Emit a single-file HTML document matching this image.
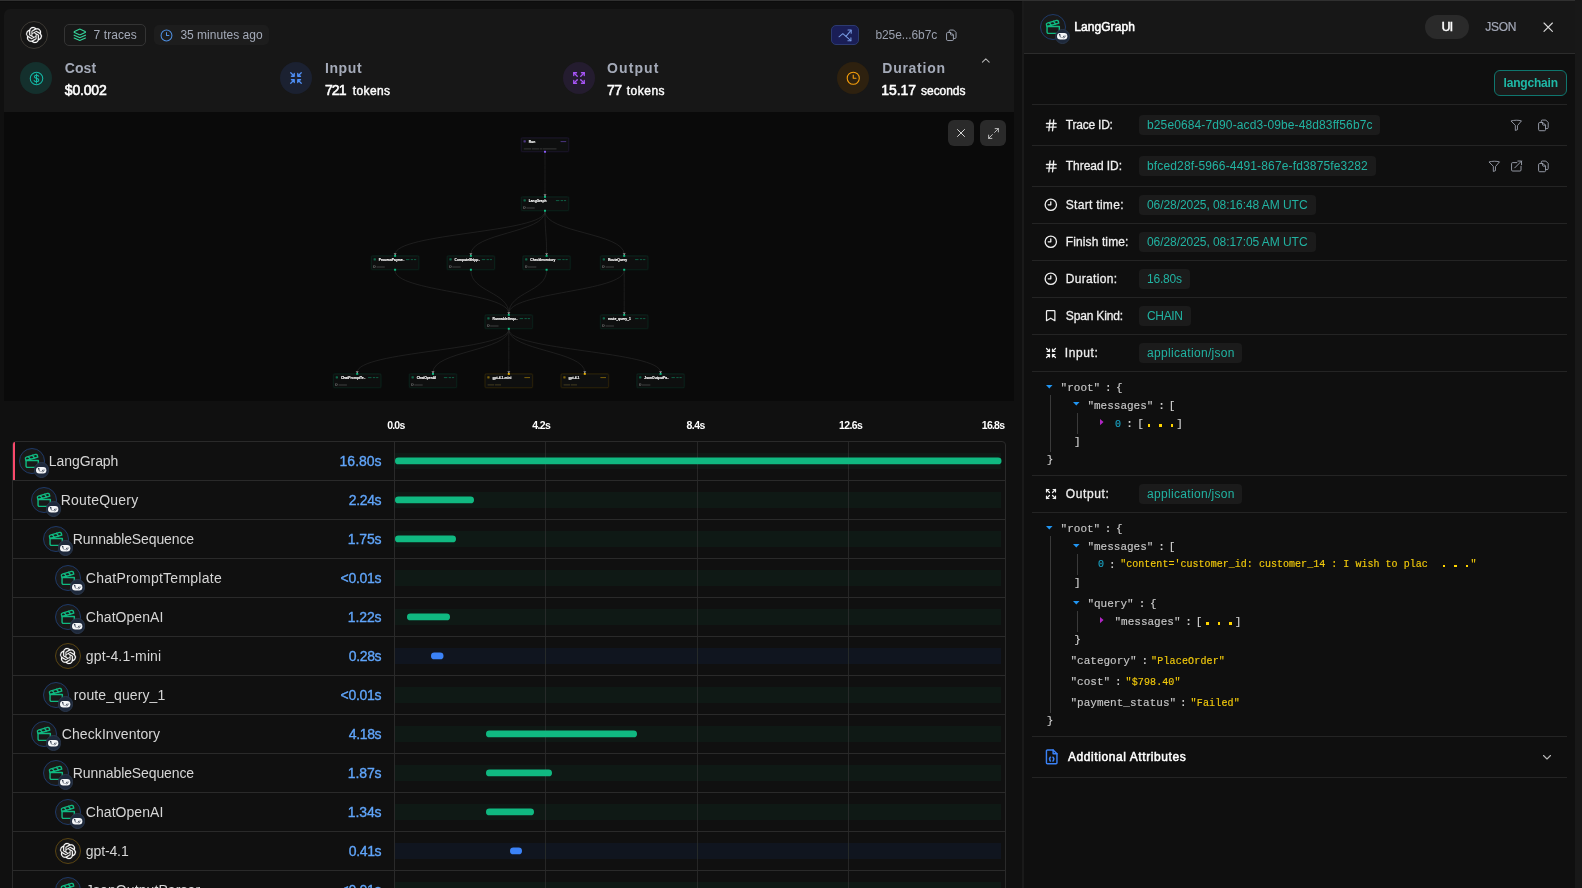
<!DOCTYPE html>
<html><head><meta charset="utf-8"><title>Trace</title>
<style>
html,body{margin:0;padding:0;width:1582px;height:888px;overflow:hidden;}
body{width:1582px;height:888px;overflow:hidden;background:#101010;position:relative;font-family:"Liberation Sans",sans-serif;}
.a{position:absolute;display:block;}
.t{position:absolute;white-space:pre;font-family:"Liberation Sans",sans-serif;}
svg{overflow:visible}
#w{position:absolute;left:0;top:0;width:1582px;height:888px;overflow:hidden;will-change:transform;}
</style></head><body><div id="w">
<div class="a" style="left:0px;top:0px;width:1575px;height:1px;background:#303030;"></div>
<div class="a" style="left:0px;top:1px;width:1022px;height:1px;background:#0c0c0c;"></div>
<div class="a" style="left:1575px;top:0px;width:7px;height:888px;background:#181818;"></div>
<div class="a" style="left:4px;top:9px;width:1010px;height:103px;background:#171717;border-radius:6px 6px 0 0;"></div>
<div class="a" style="left:4px;top:112px;width:1010px;height:289px;background:#0a0a0a;"></div>
<div class="a" style="left:1024px;top:54px;width:551px;height:834px;background:#0f0f0f;"></div>
<div class="a" style="left:1022px;top:1px;width:2px;height:887px;background:#1a1a1a;"></div>
<div class="a" style="left:1024px;top:1px;width:551px;height:52px;background:#171717;"></div>
<div class="a" style="left:1024px;top:53px;width:551px;height:1px;background:#2c2c2c;"></div>
<div class="a" style="left:20px;top:21px;width:28px;height:28px;border-radius:50%;box-sizing:border-box;border:1px solid #3d3a34;background:#151515"></div>
<svg class="a" style="left:26px;top:27px;" width="16" height="16" viewBox="0 0 24 24"><path fill="#fff" stroke="#fff" stroke-width=".35" d="M22.2819 9.8211a5.9847 5.9847 0 0 0-.5157-4.9108 6.0462 6.0462 0 0 0-6.5098-2.9A6.0651 6.0651 0 0 0 4.9807 4.1818a5.9847 5.9847 0 0 0-3.9977 2.9 6.0462 6.0462 0 0 0 .7427 7.0966 5.98 5.98 0 0 0 .511 4.9107 6.051 6.051 0 0 0 6.5146 2.9001A5.9847 5.9847 0 0 0 13.2599 24a6.0557 6.0557 0 0 0 5.7718-4.2058 5.9894 5.9894 0 0 0 3.9977-2.9001 6.0557 6.0557 0 0 0-.7475-7.0729zm-9.022 12.6081a4.4755 4.4755 0 0 1-2.8764-1.0408l.1419-.0804 4.7783-2.7582a.7948.7948 0 0 0 .3927-.6813v-6.7369l2.02 1.1686a.071.071 0 0 1 .038.052v5.5826a4.504 4.504 0 0 1-4.4945 4.4944zm-9.6607-4.1254a4.4708 4.4708 0 0 1-.5346-3.0137l.142.0852 4.783 2.7582a.7712.7712 0 0 0 .7806 0l5.8428-3.3685v2.3324a.0804.0804 0 0 1-.0332.0615L9.74 19.9502a4.4992 4.4992 0 0 1-6.1408-1.6464zM2.3408 7.8956a4.485 4.485 0 0 1 2.3655-1.9728V11.6a.7664.7664 0 0 0 .3879.6765l5.8144 3.3543-2.0201 1.1685a.0757.0757 0 0 1-.071 0l-4.8303-2.7865A4.504 4.504 0 0 1 2.3408 7.872zm16.5963 3.8558L13.1038 8.364 15.1192 7.2a.0757.0757 0 0 1 .071 0l4.8303 2.7913a4.4944 4.4944 0 0 1-.6765 8.1042v-5.6772a.79.79 0 0 0-.407-.667zm2.0107-3.0231l-.142-.0852-4.7735-2.7818a.7759.7759 0 0 0-.7854 0L9.409 9.2297V6.8974a.0662.0662 0 0 1 .0284-.0615l4.8303-2.7866a4.4992 4.4992 0 0 1 6.6802 4.66zM8.3065 12.863l-2.02-1.1638a.0804.0804 0 0 1-.038-.0567V6.0742a4.4992 4.4992 0 0 1 7.3757-3.4537l-.142.0805L8.704 5.459a.7948.7948 0 0 0-.3927.6813zm1.0976-2.3654l2.602-1.4998 2.6069 1.4998v2.9994l-2.5974 1.4997-2.6067-1.4997Z"/></svg>
<div class="a" style="left:64px;top:24px;width:82px;height:22px;border-radius:5px;box-sizing:border-box;border:1px solid #343434;background:#181818"></div>
<svg class="a" style="left:72.7px;top:28px;" width="13.6" height="13.6" viewBox="0 0 24 24"><g fill="none" stroke="#34d399" stroke-width="2" stroke-linecap="round" stroke-linejoin="round"><path d="m12.83 2.18a2 2 0 0 0-1.66 0L2.6 6.08a1 1 0 0 0 0 1.83l8.58 3.91a2 2 0 0 0 1.66 0l8.58-3.9a1 1 0 0 0 0-1.83Z"/><path d="m22 17.65-9.17 4.16a2 2 0 0 1-1.66 0L2 17.65"/><path d="m22 12.65-9.17 4.16a2 2 0 0 1-1.66 0L2 12.65"/></g></svg>
<div class="t" style="left:93.6px;top:26.64px;font-size:12px;line-height:16px;color:#a4aab8;letter-spacing:0.07px;">7 traces</div>
<div class="a" style="left:154px;top:25px;width:115px;height:20px;border-radius:5px;background:#1d1d1d"></div>
<svg class="a" style="left:160.4px;top:28.5px;" width="13" height="13" viewBox="0 0 24 24"><g fill="none" stroke="#4f8fe0" stroke-width="1.9" stroke-linecap="round" stroke-linejoin="round"><circle cx="12" cy="12" r="10"/><path d="M12 6.5V12h4.5"/></g></svg>
<div class="t" style="left:180.4px;top:26.64px;font-size:12px;line-height:16px;color:#a4aab8;letter-spacing:0.01px;">35 minutes ago</div>
<div class="a" style="left:831px;top:25px;width:28px;height:20px;border-radius:5px;box-sizing:border-box;border:1px solid #2c3a70;background:#1a1e56"></div>
<svg class="a" style="left:831px;top:25px;" width="28" height="20" viewBox="0 0 28 20"><g fill="none" stroke="#7698e0" stroke-width="1.05" stroke-linecap="round" stroke-linejoin="round"><path d="M8 11.8 11.8 8.7 15 11.4 20 5.3"/><path d="M17 5h3.2v3.2"/><path d="M15 11.4 19.8 15.6"/><path d="M19.9 12.7v3h-3"/></g></svg>
<div class="t" style="left:875.4px;top:26.74px;font-size:12px;line-height:16px;color:#9aa0ae;letter-spacing:-0.08px;">b25e...6b7c</div>
<svg class="a" style="left:945px;top:28.6px;" width="12.6" height="12.6" viewBox="0 0 24 24"><g fill="none" stroke="#9aa0ae" stroke-width="1.9" stroke-linecap="round" stroke-linejoin="round"><path d="M3 8.5a2 2 0 0 1 2-2h6l5 5V20a2 2 0 0 1-2 2H5a2 2 0 0 1-2-2Z"/><path d="M10.5 6.5V10a1.5 1.5 0 0 0 1.5 1.5H16"/><path d="M8 6.5V4a2 2 0 0 1 2-2h6.5L21 6.5V16a2 2 0 0 1-2 2h-3"/></g></svg>
<svg class="a" style="left:980.4px;top:54.7px;" width="11.6" height="11.6" viewBox="0 0 24 24"><g fill="none" stroke="#b4b4b4" stroke-width="2.2" stroke-linecap="round" stroke-linejoin="round"><path d="m5 15 7-7 7 7"/></g></svg>
<div class="a" style="left:20px;top:62px;width:32px;height:32px;border-radius:50%;background:#14302d"></div>
<svg class="a" style="left:28.5px;top:70.5px;" width="15" height="15" viewBox="0 0 24 24"><g fill="none" stroke="#14b8a6" stroke-width="1.7" stroke-linecap="round" stroke-linejoin="round"><circle cx="12" cy="12" r="10"/><path d="M15.5 8.5c-.600-1.1-1.9-1.7-3.5-1.7-2 0-3.4 1-3.4 2.5 0 3.4 7 1.6 7 5.2 0 1.6-1.5 2.7-3.6 2.7-1.8 0-3.2-.700-3.8-2"/><path d="M12 5v14"/></g></svg>
<div class="t" style="left:64.8px;top:59.25px;font-size:14px;line-height:18px;color:#a4aab8;font-weight:700;letter-spacing:0.08px;">Cost</div>
<div class="t" style="left:64.8px;top:81.35px;font-size:14px;line-height:18px;color:#ffffff;letter-spacing:-0.17px;-webkit-text-stroke:0.55px #ffffff;">$0.002</div>
<div class="a" style="left:280px;top:62px;width:32px;height:32px;border-radius:50%;background:#1b2131"></div>
<svg class="a" style="left:289.0px;top:71.0px;" width="14" height="14" viewBox="0 0 24 24"><g fill="none" stroke="#4f8ff5" stroke-width="2.2" stroke-linecap="round" stroke-linejoin="round"><path d="m15 15 6 6m-6-6v4.8m0-4.8h4.8"/><path d="M9 19.8V15m0 0H4.2M9 15l-6 6"/><path d="M15 4.2V9m0 0h4.8M15 9l6-6"/><path d="M9 4.2V9m0 0H4.2M9 9 3 3"/></g></svg>
<div class="t" style="left:325px;top:59.25px;font-size:14px;line-height:18px;color:#a4aab8;font-weight:700;letter-spacing:0.59px;">Input</div>
<div class="t" style="left:325px;top:81.35px;font-size:14px;line-height:18px;color:#ffffff;letter-spacing:-0.94px;-webkit-text-stroke:0.55px #ffffff;">721</div>
<div class="t" style="left:352.8px;top:83.04px;font-size:12px;line-height:16px;color:#ffffff;letter-spacing:0.37px;-webkit-text-stroke:0.4px #ffffff;">tokens</div>
<div class="a" style="left:563px;top:62px;width:32px;height:32px;border-radius:50%;background:#241c2f"></div>
<svg class="a" style="left:572.0px;top:71.0px;" width="14" height="14" viewBox="0 0 24 24"><g fill="none" stroke="#a855f7" stroke-width="2.2" stroke-linecap="round" stroke-linejoin="round"><path d="m15 15 6 6"/><path d="m15 9 6-6"/><path d="M21 16.2V21h-4.8"/><path d="M21 7.8V3h-4.8"/><path d="M3 16.2V21h4.8"/><path d="m3 21 6-6"/><path d="M3 7.8V3h4.8"/><path d="M9 9 3 3"/></g></svg>
<div class="t" style="left:607.1px;top:59.25px;font-size:14px;line-height:18px;color:#a4aab8;font-weight:700;letter-spacing:1.08px;">Output</div>
<div class="t" style="left:607.1px;top:81.35px;font-size:14px;line-height:18px;color:#ffffff;letter-spacing:-0.69px;-webkit-text-stroke:0.55px #ffffff;">77</div>
<div class="t" style="left:626.8px;top:83.04px;font-size:12px;line-height:16px;color:#ffffff;letter-spacing:0.49px;-webkit-text-stroke:0.4px #ffffff;">tokens</div>
<div class="a" style="left:837px;top:62px;width:32px;height:32px;border-radius:50%;background:#2e210f"></div>
<svg class="a" style="left:845.75px;top:70.75px;" width="14.5" height="14.5" viewBox="0 0 24 24"><g fill="none" stroke="#f59e0b" stroke-width="1.8" stroke-linecap="round" stroke-linejoin="round"><circle cx="12" cy="12" r="10"/><path d="M12 6.5V12h4.5"/></g></svg>
<div class="t" style="left:882.3px;top:59.25px;font-size:14px;line-height:18px;color:#a4aab8;font-weight:700;letter-spacing:0.73px;">Duration</div>
<div class="t" style="left:881.3px;top:81.35px;font-size:14px;line-height:18px;color:#ffffff;letter-spacing:-0.09px;-webkit-text-stroke:0.55px #ffffff;">15.17</div>
<div class="t" style="left:921.1px;top:83.04px;font-size:12px;line-height:16px;color:#ffffff;letter-spacing:-0.05px;-webkit-text-stroke:0.4px #ffffff;">seconds</div>
<div class="a" style="left:948px;top:120px;width:26px;height:26px;border-radius:6px;background:#2a2a2a"></div>
<svg class="a" style="left:955px;top:127px;" width="12" height="12" viewBox="0 0 24 24"><g fill="none" stroke="#d4d4d4" stroke-width="2" stroke-linecap="round" stroke-linejoin="round"><path d="M5 5 19 19M19 5 5 19"/></g></svg>
<div class="a" style="left:980px;top:120px;width:26px;height:26px;border-radius:6px;background:#2a2a2a"></div>
<svg class="a" style="left:986.5px;top:126.5px;" width="13" height="13" viewBox="0 0 24 24"><g fill="none" stroke="#c8c8c8" stroke-width="1.7" stroke-linecap="round" stroke-linejoin="round"><polyline points="15 3 21 3 21 9"/><polyline points="9 21 3 21 3 15"/><line x1="21" x2="14" y1="3" y2="10"/><line x1="3" x2="10" y1="21" y2="14"/></g></svg>
<svg class="a" style="left:4px;top:112px" width="1010" height="289" viewBox="4 112 1010 289"><path d="M545.0 152.4C545.0 173.9 545.0 173.9 545.0 195.4" fill="none" stroke="#2e2e2e" stroke-width=".55"/><path d="M545.0 211.4C545.0 232.9 395.1 232.9 395.1 254.4" fill="none" stroke="#2e2e2e" stroke-width=".55"/><path d="M545.0 211.4C545.0 232.9 470.9 232.9 470.9 254.4" fill="none" stroke="#2e2e2e" stroke-width=".55"/><path d="M545.0 211.4C545.0 232.9 546.6 232.9 546.6 254.4" fill="none" stroke="#2e2e2e" stroke-width=".55"/><path d="M545.0 211.4C545.0 232.9 624.2 232.9 624.2 254.4" fill="none" stroke="#2e2e2e" stroke-width=".55"/><path d="M395.1 270.4C395.1 291.9 508.8 291.9 508.8 313.4" fill="none" stroke="#2e2e2e" stroke-width=".55"/><path d="M470.9 270.4C470.9 291.9 508.8 291.9 508.8 313.4" fill="none" stroke="#2e2e2e" stroke-width=".55"/><path d="M546.6 270.4C546.6 291.9 508.8 291.9 508.8 313.4" fill="none" stroke="#2e2e2e" stroke-width=".55"/><path d="M624.2 270.4C624.2 291.9 508.8 291.9 508.8 313.4" fill="none" stroke="#2e2e2e" stroke-width=".55"/><path d="M624.2 270.4C624.2 291.9 624.2 291.9 624.2 313.4" fill="none" stroke="#2e2e2e" stroke-width=".55"/><path d="M508.8 329.4C508.8 350.9 357.2 350.9 357.2 372.4" fill="none" stroke="#2e2e2e" stroke-width=".55"/><path d="M508.8 329.4C508.8 350.9 433.0 350.9 433.0 372.4" fill="none" stroke="#2e2e2e" stroke-width=".55"/><path d="M508.8 329.4C508.8 350.9 508.8 350.9 508.8 372.4" fill="none" stroke="#2e2e2e" stroke-width=".55"/><path d="M508.8 329.4C508.8 350.9 584.8 350.9 584.8 372.4" fill="none" stroke="#2e2e2e" stroke-width=".55"/><path d="M508.8 329.4C508.8 350.9 660.6 350.9 660.6 372.4" fill="none" stroke="#2e2e2e" stroke-width=".55"/><rect x="520.8" y="137.4" width="48.4" height="14.8" rx="1.6" fill="none" stroke="#8b5cf6" stroke-opacity=".05" stroke-width="1"/><rect x="521.4" y="138.0" width="47.2" height="13.6" rx="1.2" fill="#0e0f0f" stroke="#8b5cf6" stroke-opacity="0.22" stroke-width=".5"/><rect x="523.5" y="140.3" width="2.3" height="2.2" rx=".4" fill="#8b5cf6" fill-opacity=".5"/><path d="M560.6 141.6h5.6" stroke="#8b5cf6" stroke-opacity=".9" stroke-width=".55"/><g transform="translate(528.7 142.9) scale(.25)"><text font-family='"Liberation Sans", sans-serif' font-weight="700" font-size="13.4" fill="#fff" stroke="#fff" stroke-width=".5">Run</text></g><path d="M523.8 148.9h7.4m.8 0h7.3m.7 0h2.4m.6 0h13.5" stroke="#777" stroke-width=".4"/><rect x="544.0" y="150.8" width="2" height="1.9" fill="#8b5cf6"/><rect x="520.8" y="196.4" width="48.4" height="14.8" rx="1.6" fill="none" stroke="#10b981" stroke-opacity=".05" stroke-width="1"/><rect x="521.4" y="197.0" width="47.2" height="13.6" rx="1.2" fill="#0e0f0f" stroke="#10b981" stroke-opacity="0.22" stroke-width=".5"/><rect x="523.5" y="199.3" width="2.3" height="2.2" rx=".4" fill="#10b981" fill-opacity=".5"/><path d="M555.9 200.6h3.4m1.4 0h2.3m.9 0h2.2" stroke="#10b981" stroke-opacity=".85" stroke-width=".55"/><g transform="translate(528.7 201.9) scale(.25)"><text font-family='"Liberation Sans", sans-serif' font-weight="700" font-size="13.4" fill="#fff" stroke="#fff" stroke-width=".5">LangGraph</text></g><rect x="523.6" y="206.9" width="1.8" height="1.9" fill="none" stroke="#9a9a9a" stroke-width=".4"/><path d="M526.4 208.0h8.3" stroke="#808080" stroke-width=".45"/><path d="M543.5 194.4h3l-1.5 1.6z" fill="#c8c8c8"/><rect x="544.0" y="196.0" width="2" height="1.8" fill="#10b981"/><rect x="544.0" y="209.8" width="2" height="1.9" fill="#10b981"/><rect x="370.9" y="255.4" width="48.4" height="14.8" rx="1.6" fill="none" stroke="#10b981" stroke-opacity=".05" stroke-width="1"/><rect x="371.5" y="256.0" width="47.2" height="13.6" rx="1.2" fill="#0e0f0f" stroke="#10b981" stroke-opacity="0.22" stroke-width=".5"/><rect x="373.6" y="258.3" width="2.3" height="2.2" rx=".4" fill="#10b981" fill-opacity=".5"/><path d="M406.0 259.6h3.4m1.4 0h2.3m.9 0h2.2" stroke="#10b981" stroke-opacity=".85" stroke-width=".55"/><g transform="translate(378.8 260.9) scale(.25)"><text font-family='"Liberation Sans", sans-serif' font-weight="700" font-size="13.4" fill="#fff" stroke="#fff" stroke-width=".5">ProcessPayme..</text></g><rect x="373.7" y="265.9" width="1.8" height="1.9" fill="none" stroke="#9a9a9a" stroke-width=".4"/><path d="M376.5 267.0h8.3" stroke="#808080" stroke-width=".45"/><path d="M393.6 253.4h3l-1.5 1.6z" fill="#c8c8c8"/><rect x="394.1" y="255.0" width="2" height="1.8" fill="#10b981"/><rect x="394.1" y="268.8" width="2" height="1.9" fill="#10b981"/><rect x="446.7" y="255.4" width="48.4" height="14.8" rx="1.6" fill="none" stroke="#10b981" stroke-opacity=".05" stroke-width="1"/><rect x="447.3" y="256.0" width="47.2" height="13.6" rx="1.2" fill="#0e0f0f" stroke="#10b981" stroke-opacity="0.22" stroke-width=".5"/><rect x="449.4" y="258.3" width="2.3" height="2.2" rx=".4" fill="#10b981" fill-opacity=".5"/><path d="M481.8 259.6h3.4m1.4 0h2.3m.9 0h2.2" stroke="#10b981" stroke-opacity=".85" stroke-width=".55"/><g transform="translate(454.6 260.9) scale(.25)"><text font-family='"Liberation Sans", sans-serif' font-weight="700" font-size="13.4" fill="#fff" stroke="#fff" stroke-width=".5">ComputeShipp..</text></g><rect x="449.5" y="265.9" width="1.8" height="1.9" fill="none" stroke="#9a9a9a" stroke-width=".4"/><path d="M452.3 267.0h8.3" stroke="#808080" stroke-width=".45"/><path d="M469.4 253.4h3l-1.5 1.6z" fill="#c8c8c8"/><rect x="469.9" y="255.0" width="2" height="1.8" fill="#10b981"/><rect x="469.9" y="268.8" width="2" height="1.9" fill="#10b981"/><rect x="522.4" y="255.4" width="48.4" height="14.8" rx="1.6" fill="none" stroke="#10b981" stroke-opacity=".05" stroke-width="1"/><rect x="523.0" y="256.0" width="47.2" height="13.6" rx="1.2" fill="#0e0f0f" stroke="#10b981" stroke-opacity="0.22" stroke-width=".5"/><rect x="525.1" y="258.3" width="2.3" height="2.2" rx=".4" fill="#10b981" fill-opacity=".5"/><path d="M557.5 259.6h3.4m1.4 0h2.3m.9 0h2.2" stroke="#10b981" stroke-opacity=".85" stroke-width=".55"/><g transform="translate(530.3 260.9) scale(.25)"><text font-family='"Liberation Sans", sans-serif' font-weight="700" font-size="13.4" fill="#fff" stroke="#fff" stroke-width=".5">CheckInventory</text></g><rect x="525.2" y="265.9" width="1.8" height="1.9" fill="none" stroke="#9a9a9a" stroke-width=".4"/><path d="M528.0 267.0h8.3" stroke="#808080" stroke-width=".45"/><path d="M545.1 253.4h3l-1.5 1.6z" fill="#c8c8c8"/><rect x="545.6" y="255.0" width="2" height="1.8" fill="#10b981"/><rect x="545.6" y="268.8" width="2" height="1.9" fill="#10b981"/><rect x="600.0" y="255.4" width="48.4" height="14.8" rx="1.6" fill="none" stroke="#10b981" stroke-opacity=".05" stroke-width="1"/><rect x="600.6" y="256.0" width="47.2" height="13.6" rx="1.2" fill="#0e0f0f" stroke="#10b981" stroke-opacity="0.22" stroke-width=".5"/><rect x="602.7" y="258.3" width="2.3" height="2.2" rx=".4" fill="#10b981" fill-opacity=".5"/><path d="M635.1 259.6h3.4m1.4 0h2.3m.9 0h2.2" stroke="#10b981" stroke-opacity=".85" stroke-width=".55"/><g transform="translate(607.9 260.9) scale(.25)"><text font-family='"Liberation Sans", sans-serif' font-weight="700" font-size="13.4" fill="#fff" stroke="#fff" stroke-width=".5">RouteQuery</text></g><rect x="602.8" y="265.9" width="1.8" height="1.9" fill="none" stroke="#9a9a9a" stroke-width=".4"/><path d="M605.6 267.0h8.3" stroke="#808080" stroke-width=".45"/><path d="M622.7 253.4h3l-1.5 1.6z" fill="#c8c8c8"/><rect x="623.2" y="255.0" width="2" height="1.8" fill="#10b981"/><rect x="623.2" y="268.8" width="2" height="1.9" fill="#10b981"/><rect x="484.6" y="314.4" width="48.4" height="14.8" rx="1.6" fill="none" stroke="#10b981" stroke-opacity=".05" stroke-width="1"/><rect x="485.2" y="315.0" width="47.2" height="13.6" rx="1.2" fill="#0e0f0f" stroke="#10b981" stroke-opacity="0.22" stroke-width=".5"/><rect x="487.3" y="317.3" width="2.3" height="2.2" rx=".4" fill="#10b981" fill-opacity=".5"/><path d="M519.7 318.6h3.4m1.4 0h2.3m.9 0h2.2" stroke="#10b981" stroke-opacity=".85" stroke-width=".55"/><g transform="translate(492.5 319.9) scale(.25)"><text font-family='"Liberation Sans", sans-serif' font-weight="700" font-size="13.4" fill="#fff" stroke="#fff" stroke-width=".5">RunnableSequ..</text></g><rect x="487.4" y="324.9" width="1.8" height="1.9" fill="none" stroke="#9a9a9a" stroke-width=".4"/><path d="M490.2 326.0h8.3" stroke="#808080" stroke-width=".45"/><path d="M507.3 312.4h3l-1.5 1.6z" fill="#c8c8c8"/><rect x="507.8" y="314.0" width="2" height="1.8" fill="#10b981"/><rect x="507.8" y="327.8" width="2" height="1.9" fill="#10b981"/><rect x="600.0" y="314.4" width="48.4" height="14.8" rx="1.6" fill="none" stroke="#10b981" stroke-opacity=".05" stroke-width="1"/><rect x="600.6" y="315.0" width="47.2" height="13.6" rx="1.2" fill="#0e0f0f" stroke="#10b981" stroke-opacity="0.22" stroke-width=".5"/><rect x="602.7" y="317.3" width="2.3" height="2.2" rx=".4" fill="#10b981" fill-opacity=".5"/><path d="M635.1 318.6h3.4m1.4 0h2.3m.9 0h2.2" stroke="#10b981" stroke-opacity=".85" stroke-width=".55"/><g transform="translate(607.9 319.9) scale(.25)"><text font-family='"Liberation Sans", sans-serif' font-weight="700" font-size="13.4" fill="#fff" stroke="#fff" stroke-width=".5">route_query_1</text></g><rect x="602.8" y="324.9" width="1.8" height="1.9" fill="none" stroke="#9a9a9a" stroke-width=".4"/><path d="M605.6 326.0h8.3" stroke="#808080" stroke-width=".45"/><path d="M622.7 312.4h3l-1.5 1.6z" fill="#c8c8c8"/><rect x="623.2" y="314.0" width="2" height="1.8" fill="#10b981"/><rect x="333.0" y="373.4" width="48.4" height="14.8" rx="1.6" fill="none" stroke="#10b981" stroke-opacity=".05" stroke-width="1"/><rect x="333.6" y="374.0" width="47.2" height="13.6" rx="1.2" fill="#0e0f0f" stroke="#10b981" stroke-opacity="0.22" stroke-width=".5"/><rect x="335.7" y="376.3" width="2.3" height="2.2" rx=".4" fill="#10b981" fill-opacity=".5"/><path d="M368.1 377.6h3.4m1.4 0h2.3m.9 0h2.2" stroke="#10b981" stroke-opacity=".85" stroke-width=".55"/><g transform="translate(340.9 378.9) scale(.25)"><text font-family='"Liberation Sans", sans-serif' font-weight="700" font-size="13.4" fill="#fff" stroke="#fff" stroke-width=".5">ChatPromptTe..</text></g><rect x="335.8" y="383.9" width="1.8" height="1.9" fill="none" stroke="#9a9a9a" stroke-width=".4"/><path d="M338.6 385.0h8.3" stroke="#808080" stroke-width=".45"/><path d="M355.7 371.4h3l-1.5 1.6z" fill="#c8c8c8"/><rect x="356.2" y="373.0" width="2" height="1.8" fill="#10b981"/><rect x="408.8" y="373.4" width="48.4" height="14.8" rx="1.6" fill="none" stroke="#10b981" stroke-opacity=".05" stroke-width="1"/><rect x="409.4" y="374.0" width="47.2" height="13.6" rx="1.2" fill="#0e0f0f" stroke="#10b981" stroke-opacity="0.22" stroke-width=".5"/><rect x="411.5" y="376.3" width="2.3" height="2.2" rx=".4" fill="#10b981" fill-opacity=".5"/><path d="M443.9 377.6h3.4m1.4 0h2.3m.9 0h2.2" stroke="#10b981" stroke-opacity=".85" stroke-width=".55"/><g transform="translate(416.7 378.9) scale(.25)"><text font-family='"Liberation Sans", sans-serif' font-weight="700" font-size="13.4" fill="#fff" stroke="#fff" stroke-width=".5">ChatOpenAI</text></g><rect x="411.6" y="383.9" width="1.8" height="1.9" fill="none" stroke="#9a9a9a" stroke-width=".4"/><path d="M414.4 385.0h8.3" stroke="#808080" stroke-width=".45"/><path d="M431.5 371.4h3l-1.5 1.6z" fill="#c8c8c8"/><rect x="432.0" y="373.0" width="2" height="1.8" fill="#10b981"/><rect x="484.6" y="373.4" width="48.4" height="14.8" rx="1.6" fill="none" stroke="#eab308" stroke-opacity=".05" stroke-width="1"/><rect x="485.2" y="374.0" width="47.2" height="13.6" rx="1.2" fill="#0e0f0f" stroke="#eab308" stroke-opacity="0.24" stroke-width=".5"/><rect x="487.3" y="376.3" width="2.3" height="2.2" rx=".4" fill="#eab308" fill-opacity=".5"/><path d="M524.4 377.6h5.6" stroke="#eab308" stroke-opacity=".9" stroke-width=".55"/><g transform="translate(492.5 378.9) scale(.25)"><text font-family='"Liberation Sans", sans-serif' font-weight="700" font-size="13.4" fill="#fff" stroke="#fff" stroke-width=".5">gpt-4.1-mini</text></g><path d="M487.6 384.9h6.6m.8 0h6" stroke="#7a6a30" stroke-width=".5"/><path d="M507.3 371.4h3l-1.5 1.6z" fill="#c8c8c8"/><rect x="507.8" y="373.0" width="2" height="1.8" fill="#eab308"/><rect x="560.6" y="373.4" width="48.4" height="14.8" rx="1.6" fill="none" stroke="#eab308" stroke-opacity=".05" stroke-width="1"/><rect x="561.2" y="374.0" width="47.2" height="13.6" rx="1.2" fill="#0e0f0f" stroke="#eab308" stroke-opacity="0.24" stroke-width=".5"/><rect x="563.3" y="376.3" width="2.3" height="2.2" rx=".4" fill="#eab308" fill-opacity=".5"/><path d="M600.4 377.6h5.6" stroke="#eab308" stroke-opacity=".9" stroke-width=".55"/><g transform="translate(568.5 378.9) scale(.25)"><text font-family='"Liberation Sans", sans-serif' font-weight="700" font-size="13.4" fill="#fff" stroke="#fff" stroke-width=".5">gpt-4.1</text></g><path d="M563.6 384.9h6.6m.8 0h6" stroke="#7a6a30" stroke-width=".5"/><path d="M583.3 371.4h3l-1.5 1.6z" fill="#c8c8c8"/><rect x="583.8" y="373.0" width="2" height="1.8" fill="#eab308"/><rect x="636.4" y="373.4" width="48.4" height="14.8" rx="1.6" fill="none" stroke="#10b981" stroke-opacity=".05" stroke-width="1"/><rect x="637.0" y="374.0" width="47.2" height="13.6" rx="1.2" fill="#0e0f0f" stroke="#10b981" stroke-opacity="0.22" stroke-width=".5"/><rect x="639.1" y="376.3" width="2.3" height="2.2" rx=".4" fill="#10b981" fill-opacity=".5"/><path d="M671.5 377.6h3.4m1.4 0h2.3m.9 0h2.2" stroke="#10b981" stroke-opacity=".85" stroke-width=".55"/><g transform="translate(644.3 378.9) scale(.25)"><text font-family='"Liberation Sans", sans-serif' font-weight="700" font-size="13.4" fill="#fff" stroke="#fff" stroke-width=".5">JsonOutputPa..</text></g><rect x="639.2" y="383.9" width="1.8" height="1.9" fill="none" stroke="#9a9a9a" stroke-width=".4"/><path d="M642.0 385.0h8.3" stroke="#808080" stroke-width=".45"/><path d="M659.1 371.4h3l-1.5 1.6z" fill="#c8c8c8"/><rect x="659.6" y="373.0" width="2" height="1.8" fill="#10b981"/></svg>
<div class="t" style="left:387.2px;top:418.46px;font-size:10.5px;line-height:14px;color:#ffffff;font-weight:700;letter-spacing:-0.8px;">0.0s</div>
<div class="t" style="left:532.3px;top:418.46px;font-size:10.5px;line-height:14px;color:#ffffff;font-weight:700;letter-spacing:-0.63px;">4.2s</div>
<div class="t" style="left:686.6px;top:418.46px;font-size:10.5px;line-height:14px;color:#ffffff;font-weight:700;letter-spacing:-0.6px;">8.4s</div>
<div class="t" style="left:838.9px;top:418.46px;font-size:10.5px;line-height:14px;color:#ffffff;font-weight:700;letter-spacing:-0.56px;">12.6s</div>
<div class="t" style="left:981.8px;top:418.46px;font-size:10.5px;line-height:14px;color:#ffffff;font-weight:700;letter-spacing:-0.76px;">16.8s</div>
<div class="a" style="left:12px;top:441px;width:994px;height:460px;box-sizing:border-box;border:1px solid #2a2a2a;border-radius:4px 4px 0 0"></div>
<div class="a" style="left:13px;top:442px;width:2.1px;height:38px;background:#f9496b;border-radius:3px 0 0 0;"></div>
<div class="a" style="left:394px;top:442px;width:1px;height:446px;background:#2a2a2a;"></div>
<div class="a" style="left:545px;top:442px;width:1px;height:446px;background:#262626;"></div>
<div class="a" style="left:697px;top:442px;width:1px;height:446px;background:#262626;"></div>
<div class="a" style="left:848px;top:442px;width:1px;height:446px;background:#262626;"></div>
<div class="a" style="left:395px;top:453px;width:606px;height:16px;background:#0f1915;"></div>
<div class="a" style="left:545px;top:453px;width:1px;height:16px;background:#262a29;"></div>
<div class="a" style="left:697px;top:453px;width:1px;height:16px;background:#262a29;"></div>
<div class="a" style="left:848px;top:453px;width:1px;height:16px;background:#262a29;"></div>
<svg class="a" style="left:394px;top:456px" width="610" height="10" viewBox="0 0 610 10"><rect x="1.00" y="1.55" width="606.50" height="6.8" rx="3.4" fill="#10b981"/></svg>
<div class="a" style="left:19px;top:447.8px;width:26px;height:26px;border-radius:50%;box-sizing:border-box;border:1px solid #1f3a68;background:#191919"></div>
<svg class="a" style="left:23.95px;top:452.7px;" width="16.4" height="16.4" viewBox="0 0 24 24"><g fill="none" stroke="#10b981" stroke-width="2.05" stroke-linecap="round" stroke-linejoin="round"><path d="M20.2 6 3 11l-.9-2.4c-.3-1.1.3-2.2 1.3-2.5l13.5-4c1.1-.3 2.2.3 2.5 1.3Z"/><path d="m6.2 5.3 3.1 3.9"/><path d="m12.4 3.4 3.1 4"/><path d="M3 11h18v8a2 2 0 0 1-2 2H5a2 2 0 0 1-2-2Z"/></g></svg>
<div class="a" style="left:33.5px;top:462.3px;width:15.4px;height:15.4px;border-radius:50%;box-sizing:border-box;border:1px solid #2a374b;background:#1e293b"></div>
<svg class="a" style="left:35.800000000000004px;top:466.7px;" width="10.4" height="6.4" viewBox="0 0 21 13"><rect x="0" y="0" width="21" height="13" rx="6.5" fill="#f4f6f8"/><path d="M5 3c0 2 1 4 3 6M5 3l2 1M12 9l2-3M14 10l3-4" stroke="#1e293b" stroke-width="1.5" fill="none" stroke-linecap="round"/></svg>
<div class="t" style="left:48.8px;top:452.35px;font-size:14px;line-height:18px;color:#d6d6d6;letter-spacing:-0.06px;">LangGraph</div>
<div class="t" style="left:339.6px;top:452.35px;font-size:14px;line-height:18px;color:#60a5fa;letter-spacing:-0.01px;-webkit-text-stroke:0.35px #60a5fa;">16.80s</div>
<div class="a" style="left:13px;top:480px;width:992px;height:1px;background:#2a2a2a;"></div>
<div class="a" style="left:395px;top:492px;width:606px;height:16px;background:#0f1915;"></div>
<div class="a" style="left:545px;top:492px;width:1px;height:16px;background:#262a29;"></div>
<div class="a" style="left:697px;top:492px;width:1px;height:16px;background:#262a29;"></div>
<div class="a" style="left:848px;top:492px;width:1px;height:16px;background:#262a29;"></div>
<svg class="a" style="left:394px;top:495px" width="83" height="10" viewBox="0 0 83 10"><rect x="1.00" y="1.55" width="79.00" height="6.8" rx="3.4" fill="#10b981"/></svg>
<div class="a" style="left:31px;top:486.8px;width:26px;height:26px;border-radius:50%;box-sizing:border-box;border:1px solid #1f3a68;background:#191919"></div>
<svg class="a" style="left:35.95px;top:491.7px;" width="16.4" height="16.4" viewBox="0 0 24 24"><g fill="none" stroke="#10b981" stroke-width="2.05" stroke-linecap="round" stroke-linejoin="round"><path d="M20.2 6 3 11l-.9-2.4c-.3-1.1.3-2.2 1.3-2.5l13.5-4c1.1-.3 2.2.3 2.5 1.3Z"/><path d="m6.2 5.3 3.1 3.9"/><path d="m12.4 3.4 3.1 4"/><path d="M3 11h18v8a2 2 0 0 1-2 2H5a2 2 0 0 1-2-2Z"/></g></svg>
<div class="a" style="left:45.5px;top:501.3px;width:15.4px;height:15.4px;border-radius:50%;box-sizing:border-box;border:1px solid #2a374b;background:#1e293b"></div>
<svg class="a" style="left:47.800000000000004px;top:505.7px;" width="10.4" height="6.4" viewBox="0 0 21 13"><rect x="0" y="0" width="21" height="13" rx="6.5" fill="#f4f6f8"/><path d="M5 3c0 2 1 4 3 6M5 3l2 1M12 9l2-3M14 10l3-4" stroke="#1e293b" stroke-width="1.5" fill="none" stroke-linecap="round"/></svg>
<div class="t" style="left:60.8px;top:491.35px;font-size:14px;line-height:18px;color:#d6d6d6;letter-spacing:0.21px;">RouteQuery</div>
<div class="t" style="left:348.7px;top:491.35px;font-size:14px;line-height:18px;color:#60a5fa;letter-spacing:-0.34px;-webkit-text-stroke:0.35px #60a5fa;">2.24s</div>
<div class="a" style="left:13px;top:519px;width:992px;height:1px;background:#2a2a2a;"></div>
<div class="a" style="left:395px;top:531px;width:606px;height:16px;background:#0f1915;"></div>
<div class="a" style="left:545px;top:531px;width:1px;height:16px;background:#262a29;"></div>
<div class="a" style="left:697px;top:531px;width:1px;height:16px;background:#262a29;"></div>
<div class="a" style="left:848px;top:531px;width:1px;height:16px;background:#262a29;"></div>
<svg class="a" style="left:394px;top:534px" width="65" height="10" viewBox="0 0 65 10"><rect x="1.00" y="1.55" width="61.00" height="6.8" rx="3.4" fill="#10b981"/></svg>
<div class="a" style="left:43px;top:525.8px;width:26px;height:26px;border-radius:50%;box-sizing:border-box;border:1px solid #1f3a68;background:#191919"></div>
<svg class="a" style="left:47.95px;top:530.6999999999999px;" width="16.4" height="16.4" viewBox="0 0 24 24"><g fill="none" stroke="#10b981" stroke-width="2.05" stroke-linecap="round" stroke-linejoin="round"><path d="M20.2 6 3 11l-.9-2.4c-.3-1.1.3-2.2 1.3-2.5l13.5-4c1.1-.3 2.2.3 2.5 1.3Z"/><path d="m6.2 5.3 3.1 3.9"/><path d="m12.4 3.4 3.1 4"/><path d="M3 11h18v8a2 2 0 0 1-2 2H5a2 2 0 0 1-2-2Z"/></g></svg>
<div class="a" style="left:57.5px;top:540.3px;width:15.4px;height:15.4px;border-radius:50%;box-sizing:border-box;border:1px solid #2a374b;background:#1e293b"></div>
<svg class="a" style="left:59.800000000000004px;top:544.7px;" width="10.4" height="6.4" viewBox="0 0 21 13"><rect x="0" y="0" width="21" height="13" rx="6.5" fill="#f4f6f8"/><path d="M5 3c0 2 1 4 3 6M5 3l2 1M12 9l2-3M14 10l3-4" stroke="#1e293b" stroke-width="1.5" fill="none" stroke-linecap="round"/></svg>
<div class="t" style="left:72.8px;top:530.35px;font-size:14px;line-height:18px;color:#d6d6d6;letter-spacing:-0.11px;">RunnableSequence</div>
<div class="t" style="left:347.7px;top:530.35px;font-size:14px;line-height:18px;color:#60a5fa;letter-spacing:-0.09px;-webkit-text-stroke:0.35px #60a5fa;">1.75s</div>
<div class="a" style="left:13px;top:558px;width:992px;height:1px;background:#2a2a2a;"></div>
<div class="a" style="left:395px;top:570px;width:606px;height:16px;background:#0f1915;"></div>
<div class="a" style="left:545px;top:570px;width:1px;height:16px;background:#262a29;"></div>
<div class="a" style="left:697px;top:570px;width:1px;height:16px;background:#262a29;"></div>
<div class="a" style="left:848px;top:570px;width:1px;height:16px;background:#262a29;"></div>
<div class="a" style="left:55px;top:564.8px;width:26px;height:26px;border-radius:50%;box-sizing:border-box;border:1px solid #1f3a68;background:#191919"></div>
<svg class="a" style="left:59.95px;top:569.6999999999999px;" width="16.4" height="16.4" viewBox="0 0 24 24"><g fill="none" stroke="#10b981" stroke-width="2.05" stroke-linecap="round" stroke-linejoin="round"><path d="M20.2 6 3 11l-.9-2.4c-.3-1.1.3-2.2 1.3-2.5l13.5-4c1.1-.3 2.2.3 2.5 1.3Z"/><path d="m6.2 5.3 3.1 3.9"/><path d="m12.4 3.4 3.1 4"/><path d="M3 11h18v8a2 2 0 0 1-2 2H5a2 2 0 0 1-2-2Z"/></g></svg>
<div class="a" style="left:69.5px;top:579.3px;width:15.4px;height:15.4px;border-radius:50%;box-sizing:border-box;border:1px solid #2a374b;background:#1e293b"></div>
<svg class="a" style="left:71.8px;top:583.7px;" width="10.4" height="6.4" viewBox="0 0 21 13"><rect x="0" y="0" width="21" height="13" rx="6.5" fill="#f4f6f8"/><path d="M5 3c0 2 1 4 3 6M5 3l2 1M12 9l2-3M14 10l3-4" stroke="#1e293b" stroke-width="1.5" fill="none" stroke-linecap="round"/></svg>
<div class="t" style="left:85.8px;top:569.35px;font-size:14px;line-height:18px;color:#d6d6d6;letter-spacing:0.26px;">ChatPromptTemplate</div>
<div class="t" style="left:340.6px;top:569.35px;font-size:14px;line-height:18px;color:#60a5fa;letter-spacing:-0.28px;-webkit-text-stroke:0.35px #60a5fa;">&lt;0.01s</div>
<div class="a" style="left:13px;top:597px;width:992px;height:1px;background:#2a2a2a;"></div>
<div class="a" style="left:395px;top:609px;width:606px;height:16px;background:#0f1915;"></div>
<div class="a" style="left:545px;top:609px;width:1px;height:16px;background:#262a29;"></div>
<div class="a" style="left:697px;top:609px;width:1px;height:16px;background:#262a29;"></div>
<div class="a" style="left:848px;top:609px;width:1px;height:16px;background:#262a29;"></div>
<svg class="a" style="left:406px;top:612px" width="47" height="10" viewBox="0 0 47 10"><rect x="1.00" y="1.55" width="43.00" height="6.8" rx="3.4" fill="#10b981"/></svg>
<div class="a" style="left:55px;top:603.8px;width:26px;height:26px;border-radius:50%;box-sizing:border-box;border:1px solid #1f3a68;background:#191919"></div>
<svg class="a" style="left:59.95px;top:608.6999999999999px;" width="16.4" height="16.4" viewBox="0 0 24 24"><g fill="none" stroke="#10b981" stroke-width="2.05" stroke-linecap="round" stroke-linejoin="round"><path d="M20.2 6 3 11l-.9-2.4c-.3-1.1.3-2.2 1.3-2.5l13.5-4c1.1-.3 2.2.3 2.5 1.3Z"/><path d="m6.2 5.3 3.1 3.9"/><path d="m12.4 3.4 3.1 4"/><path d="M3 11h18v8a2 2 0 0 1-2 2H5a2 2 0 0 1-2-2Z"/></g></svg>
<div class="a" style="left:69.5px;top:618.3px;width:15.4px;height:15.4px;border-radius:50%;box-sizing:border-box;border:1px solid #2a374b;background:#1e293b"></div>
<svg class="a" style="left:71.8px;top:622.7px;" width="10.4" height="6.4" viewBox="0 0 21 13"><rect x="0" y="0" width="21" height="13" rx="6.5" fill="#f4f6f8"/><path d="M5 3c0 2 1 4 3 6M5 3l2 1M12 9l2-3M14 10l3-4" stroke="#1e293b" stroke-width="1.5" fill="none" stroke-linecap="round"/></svg>
<div class="t" style="left:85.8px;top:608.35px;font-size:14px;line-height:18px;color:#d6d6d6;letter-spacing:0.05px;">ChatOpenAI</div>
<div class="t" style="left:347.7px;top:608.35px;font-size:14px;line-height:18px;color:#60a5fa;letter-spacing:-0.09px;-webkit-text-stroke:0.35px #60a5fa;">1.22s</div>
<div class="a" style="left:13px;top:636px;width:992px;height:1px;background:#2a2a2a;"></div>
<div class="a" style="left:395px;top:648px;width:606px;height:16px;background:#10151f;"></div>
<div class="a" style="left:545px;top:648px;width:1px;height:16px;background:#262a29;"></div>
<div class="a" style="left:697px;top:648px;width:1px;height:16px;background:#262a29;"></div>
<div class="a" style="left:848px;top:648px;width:1px;height:16px;background:#262a29;"></div>
<svg class="a" style="left:430px;top:651px" width="16" height="10" viewBox="0 0 16 10"><rect x="1.00" y="1.55" width="12.50" height="6.8" rx="3.4" fill="#3b82f6"/></svg>
<div class="a" style="left:55px;top:642.8px;width:26px;height:26px;border-radius:50%;box-sizing:border-box;border:1px solid #5a4513;background:#151515"></div>
<svg class="a" style="left:60px;top:647.8px;" width="16" height="16" viewBox="0 0 24 24"><path fill="#fff" stroke="#fff" stroke-width=".35" d="M22.2819 9.8211a5.9847 5.9847 0 0 0-.5157-4.9108 6.0462 6.0462 0 0 0-6.5098-2.9A6.0651 6.0651 0 0 0 4.9807 4.1818a5.9847 5.9847 0 0 0-3.9977 2.9 6.0462 6.0462 0 0 0 .7427 7.0966 5.98 5.98 0 0 0 .511 4.9107 6.051 6.051 0 0 0 6.5146 2.9001A5.9847 5.9847 0 0 0 13.2599 24a6.0557 6.0557 0 0 0 5.7718-4.2058 5.9894 5.9894 0 0 0 3.9977-2.9001 6.0557 6.0557 0 0 0-.7475-7.0729zm-9.022 12.6081a4.4755 4.4755 0 0 1-2.8764-1.0408l.1419-.0804 4.7783-2.7582a.7948.7948 0 0 0 .3927-.6813v-6.7369l2.02 1.1686a.071.071 0 0 1 .038.052v5.5826a4.504 4.504 0 0 1-4.4945 4.4944zm-9.6607-4.1254a4.4708 4.4708 0 0 1-.5346-3.0137l.142.0852 4.783 2.7582a.7712.7712 0 0 0 .7806 0l5.8428-3.3685v2.3324a.0804.0804 0 0 1-.0332.0615L9.74 19.9502a4.4992 4.4992 0 0 1-6.1408-1.6464zM2.3408 7.8956a4.485 4.485 0 0 1 2.3655-1.9728V11.6a.7664.7664 0 0 0 .3879.6765l5.8144 3.3543-2.0201 1.1685a.0757.0757 0 0 1-.071 0l-4.8303-2.7865A4.504 4.504 0 0 1 2.3408 7.872zm16.5963 3.8558L13.1038 8.364 15.1192 7.2a.0757.0757 0 0 1 .071 0l4.8303 2.7913a4.4944 4.4944 0 0 1-.6765 8.1042v-5.6772a.79.79 0 0 0-.407-.667zm2.0107-3.0231l-.142-.0852-4.7735-2.7818a.7759.7759 0 0 0-.7854 0L9.409 9.2297V6.8974a.0662.0662 0 0 1 .0284-.0615l4.8303-2.7866a4.4992 4.4992 0 0 1 6.6802 4.66zM8.3065 12.863l-2.02-1.1638a.0804.0804 0 0 1-.038-.0567V6.0742a4.4992 4.4992 0 0 1 7.3757-3.4537l-.142.0805L8.704 5.459a.7948.7948 0 0 0-.3927.6813zm1.0976-2.3654l2.602-1.4998 2.6069 1.4998v2.9994l-2.5974 1.4997-2.6067-1.4997Z"/></svg>
<div class="t" style="left:85.8px;top:647.35px;font-size:14px;line-height:18px;color:#d6d6d6;letter-spacing:0.13px;">gpt-4.1-mini</div>
<div class="t" style="left:348.7px;top:647.35px;font-size:14px;line-height:18px;color:#60a5fa;letter-spacing:-0.34px;-webkit-text-stroke:0.35px #60a5fa;">0.28s</div>
<div class="a" style="left:13px;top:675px;width:992px;height:1px;background:#2a2a2a;"></div>
<div class="a" style="left:395px;top:687px;width:606px;height:16px;background:#0f1915;"></div>
<div class="a" style="left:545px;top:687px;width:1px;height:16px;background:#262a29;"></div>
<div class="a" style="left:697px;top:687px;width:1px;height:16px;background:#262a29;"></div>
<div class="a" style="left:848px;top:687px;width:1px;height:16px;background:#262a29;"></div>
<div class="a" style="left:43px;top:681.8px;width:26px;height:26px;border-radius:50%;box-sizing:border-box;border:1px solid #1f3a68;background:#191919"></div>
<svg class="a" style="left:47.95px;top:686.6999999999999px;" width="16.4" height="16.4" viewBox="0 0 24 24"><g fill="none" stroke="#10b981" stroke-width="2.05" stroke-linecap="round" stroke-linejoin="round"><path d="M20.2 6 3 11l-.9-2.4c-.3-1.1.3-2.2 1.3-2.5l13.5-4c1.1-.3 2.2.3 2.5 1.3Z"/><path d="m6.2 5.3 3.1 3.9"/><path d="m12.4 3.4 3.1 4"/><path d="M3 11h18v8a2 2 0 0 1-2 2H5a2 2 0 0 1-2-2Z"/></g></svg>
<div class="a" style="left:57.5px;top:696.3px;width:15.4px;height:15.4px;border-radius:50%;box-sizing:border-box;border:1px solid #2a374b;background:#1e293b"></div>
<svg class="a" style="left:59.800000000000004px;top:700.7px;" width="10.4" height="6.4" viewBox="0 0 21 13"><rect x="0" y="0" width="21" height="13" rx="6.5" fill="#f4f6f8"/><path d="M5 3c0 2 1 4 3 6M5 3l2 1M12 9l2-3M14 10l3-4" stroke="#1e293b" stroke-width="1.5" fill="none" stroke-linecap="round"/></svg>
<div class="t" style="left:73.8px;top:686.35px;font-size:14px;line-height:18px;color:#d6d6d6;letter-spacing:0.09px;">route_query_1</div>
<div class="t" style="left:340.6px;top:686.35px;font-size:14px;line-height:18px;color:#60a5fa;letter-spacing:-0.28px;-webkit-text-stroke:0.35px #60a5fa;">&lt;0.01s</div>
<div class="a" style="left:13px;top:714px;width:992px;height:1px;background:#2a2a2a;"></div>
<div class="a" style="left:395px;top:726px;width:606px;height:16px;background:#0f1915;"></div>
<div class="a" style="left:545px;top:726px;width:1px;height:16px;background:#262a29;"></div>
<div class="a" style="left:697px;top:726px;width:1px;height:16px;background:#262a29;"></div>
<div class="a" style="left:848px;top:726px;width:1px;height:16px;background:#262a29;"></div>
<svg class="a" style="left:485px;top:729px" width="155" height="10" viewBox="0 0 155 10"><rect x="1.00" y="1.55" width="151.00" height="6.8" rx="3.4" fill="#10b981"/></svg>
<div class="a" style="left:31px;top:720.8px;width:26px;height:26px;border-radius:50%;box-sizing:border-box;border:1px solid #1f3a68;background:#191919"></div>
<svg class="a" style="left:35.95px;top:725.6999999999999px;" width="16.4" height="16.4" viewBox="0 0 24 24"><g fill="none" stroke="#10b981" stroke-width="2.05" stroke-linecap="round" stroke-linejoin="round"><path d="M20.2 6 3 11l-.9-2.4c-.3-1.1.3-2.2 1.3-2.5l13.5-4c1.1-.3 2.2.3 2.5 1.3Z"/><path d="m6.2 5.3 3.1 3.9"/><path d="m12.4 3.4 3.1 4"/><path d="M3 11h18v8a2 2 0 0 1-2 2H5a2 2 0 0 1-2-2Z"/></g></svg>
<div class="a" style="left:45.5px;top:735.3px;width:15.4px;height:15.4px;border-radius:50%;box-sizing:border-box;border:1px solid #2a374b;background:#1e293b"></div>
<svg class="a" style="left:47.800000000000004px;top:739.7px;" width="10.4" height="6.4" viewBox="0 0 21 13"><rect x="0" y="0" width="21" height="13" rx="6.5" fill="#f4f6f8"/><path d="M5 3c0 2 1 4 3 6M5 3l2 1M12 9l2-3M14 10l3-4" stroke="#1e293b" stroke-width="1.5" fill="none" stroke-linecap="round"/></svg>
<div class="t" style="left:61.8px;top:725.35px;font-size:14px;line-height:18px;color:#d6d6d6;letter-spacing:0.08px;">CheckInventory</div>
<div class="t" style="left:348.7px;top:725.35px;font-size:14px;line-height:18px;color:#60a5fa;letter-spacing:-0.34px;-webkit-text-stroke:0.35px #60a5fa;">4.18s</div>
<div class="a" style="left:13px;top:753px;width:992px;height:1px;background:#2a2a2a;"></div>
<div class="a" style="left:395px;top:765px;width:606px;height:16px;background:#0f1915;"></div>
<div class="a" style="left:545px;top:765px;width:1px;height:16px;background:#262a29;"></div>
<div class="a" style="left:697px;top:765px;width:1px;height:16px;background:#262a29;"></div>
<div class="a" style="left:848px;top:765px;width:1px;height:16px;background:#262a29;"></div>
<svg class="a" style="left:485px;top:768px" width="70" height="10" viewBox="0 0 70 10"><rect x="1.00" y="1.55" width="66.00" height="6.8" rx="3.4" fill="#10b981"/></svg>
<div class="a" style="left:43px;top:759.8px;width:26px;height:26px;border-radius:50%;box-sizing:border-box;border:1px solid #1f3a68;background:#191919"></div>
<svg class="a" style="left:47.95px;top:764.6999999999999px;" width="16.4" height="16.4" viewBox="0 0 24 24"><g fill="none" stroke="#10b981" stroke-width="2.05" stroke-linecap="round" stroke-linejoin="round"><path d="M20.2 6 3 11l-.9-2.4c-.3-1.1.3-2.2 1.3-2.5l13.5-4c1.1-.3 2.2.3 2.5 1.3Z"/><path d="m6.2 5.3 3.1 3.9"/><path d="m12.4 3.4 3.1 4"/><path d="M3 11h18v8a2 2 0 0 1-2 2H5a2 2 0 0 1-2-2Z"/></g></svg>
<div class="a" style="left:57.5px;top:774.3px;width:15.4px;height:15.4px;border-radius:50%;box-sizing:border-box;border:1px solid #2a374b;background:#1e293b"></div>
<svg class="a" style="left:59.800000000000004px;top:778.7px;" width="10.4" height="6.4" viewBox="0 0 21 13"><rect x="0" y="0" width="21" height="13" rx="6.5" fill="#f4f6f8"/><path d="M5 3c0 2 1 4 3 6M5 3l2 1M12 9l2-3M14 10l3-4" stroke="#1e293b" stroke-width="1.5" fill="none" stroke-linecap="round"/></svg>
<div class="t" style="left:72.8px;top:764.35px;font-size:14px;line-height:18px;color:#d6d6d6;letter-spacing:-0.11px;">RunnableSequence</div>
<div class="t" style="left:347.7px;top:764.35px;font-size:14px;line-height:18px;color:#60a5fa;letter-spacing:-0.09px;-webkit-text-stroke:0.35px #60a5fa;">1.87s</div>
<div class="a" style="left:13px;top:792px;width:992px;height:1px;background:#2a2a2a;"></div>
<div class="a" style="left:395px;top:804px;width:606px;height:16px;background:#0f1915;"></div>
<div class="a" style="left:545px;top:804px;width:1px;height:16px;background:#262a29;"></div>
<div class="a" style="left:697px;top:804px;width:1px;height:16px;background:#262a29;"></div>
<div class="a" style="left:848px;top:804px;width:1px;height:16px;background:#262a29;"></div>
<svg class="a" style="left:485px;top:807px" width="52" height="10" viewBox="0 0 52 10"><rect x="1.00" y="1.55" width="48.00" height="6.8" rx="3.4" fill="#10b981"/></svg>
<div class="a" style="left:55px;top:798.8px;width:26px;height:26px;border-radius:50%;box-sizing:border-box;border:1px solid #1f3a68;background:#191919"></div>
<svg class="a" style="left:59.95px;top:803.6999999999999px;" width="16.4" height="16.4" viewBox="0 0 24 24"><g fill="none" stroke="#10b981" stroke-width="2.05" stroke-linecap="round" stroke-linejoin="round"><path d="M20.2 6 3 11l-.9-2.4c-.3-1.1.3-2.2 1.3-2.5l13.5-4c1.1-.3 2.2.3 2.5 1.3Z"/><path d="m6.2 5.3 3.1 3.9"/><path d="m12.4 3.4 3.1 4"/><path d="M3 11h18v8a2 2 0 0 1-2 2H5a2 2 0 0 1-2-2Z"/></g></svg>
<div class="a" style="left:69.5px;top:813.3px;width:15.4px;height:15.4px;border-radius:50%;box-sizing:border-box;border:1px solid #2a374b;background:#1e293b"></div>
<svg class="a" style="left:71.8px;top:817.7px;" width="10.4" height="6.4" viewBox="0 0 21 13"><rect x="0" y="0" width="21" height="13" rx="6.5" fill="#f4f6f8"/><path d="M5 3c0 2 1 4 3 6M5 3l2 1M12 9l2-3M14 10l3-4" stroke="#1e293b" stroke-width="1.5" fill="none" stroke-linecap="round"/></svg>
<div class="t" style="left:85.8px;top:803.35px;font-size:14px;line-height:18px;color:#d6d6d6;letter-spacing:0.05px;">ChatOpenAI</div>
<div class="t" style="left:347.7px;top:803.35px;font-size:14px;line-height:18px;color:#60a5fa;letter-spacing:-0.09px;-webkit-text-stroke:0.35px #60a5fa;">1.34s</div>
<div class="a" style="left:13px;top:831px;width:992px;height:1px;background:#2a2a2a;"></div>
<div class="a" style="left:395px;top:843px;width:606px;height:16px;background:#10151f;"></div>
<div class="a" style="left:545px;top:843px;width:1px;height:16px;background:#262a29;"></div>
<div class="a" style="left:697px;top:843px;width:1px;height:16px;background:#262a29;"></div>
<div class="a" style="left:848px;top:843px;width:1px;height:16px;background:#262a29;"></div>
<svg class="a" style="left:509px;top:846px" width="16" height="10" viewBox="0 0 16 10"><rect x="1.00" y="1.55" width="12.00" height="6.8" rx="3.4" fill="#3b82f6"/></svg>
<div class="a" style="left:55px;top:837.8px;width:26px;height:26px;border-radius:50%;box-sizing:border-box;border:1px solid #5a4513;background:#151515"></div>
<svg class="a" style="left:60px;top:842.8px;" width="16" height="16" viewBox="0 0 24 24"><path fill="#fff" stroke="#fff" stroke-width=".35" d="M22.2819 9.8211a5.9847 5.9847 0 0 0-.5157-4.9108 6.0462 6.0462 0 0 0-6.5098-2.9A6.0651 6.0651 0 0 0 4.9807 4.1818a5.9847 5.9847 0 0 0-3.9977 2.9 6.0462 6.0462 0 0 0 .7427 7.0966 5.98 5.98 0 0 0 .511 4.9107 6.051 6.051 0 0 0 6.5146 2.9001A5.9847 5.9847 0 0 0 13.2599 24a6.0557 6.0557 0 0 0 5.7718-4.2058 5.9894 5.9894 0 0 0 3.9977-2.9001 6.0557 6.0557 0 0 0-.7475-7.0729zm-9.022 12.6081a4.4755 4.4755 0 0 1-2.8764-1.0408l.1419-.0804 4.7783-2.7582a.7948.7948 0 0 0 .3927-.6813v-6.7369l2.02 1.1686a.071.071 0 0 1 .038.052v5.5826a4.504 4.504 0 0 1-4.4945 4.4944zm-9.6607-4.1254a4.4708 4.4708 0 0 1-.5346-3.0137l.142.0852 4.783 2.7582a.7712.7712 0 0 0 .7806 0l5.8428-3.3685v2.3324a.0804.0804 0 0 1-.0332.0615L9.74 19.9502a4.4992 4.4992 0 0 1-6.1408-1.6464zM2.3408 7.8956a4.485 4.485 0 0 1 2.3655-1.9728V11.6a.7664.7664 0 0 0 .3879.6765l5.8144 3.3543-2.0201 1.1685a.0757.0757 0 0 1-.071 0l-4.8303-2.7865A4.504 4.504 0 0 1 2.3408 7.872zm16.5963 3.8558L13.1038 8.364 15.1192 7.2a.0757.0757 0 0 1 .071 0l4.8303 2.7913a4.4944 4.4944 0 0 1-.6765 8.1042v-5.6772a.79.79 0 0 0-.407-.667zm2.0107-3.0231l-.142-.0852-4.7735-2.7818a.7759.7759 0 0 0-.7854 0L9.409 9.2297V6.8974a.0662.0662 0 0 1 .0284-.0615l4.8303-2.7866a4.4992 4.4992 0 0 1 6.6802 4.66zM8.3065 12.863l-2.02-1.1638a.0804.0804 0 0 1-.038-.0567V6.0742a4.4992 4.4992 0 0 1 7.3757-3.4537l-.142.0805L8.704 5.459a.7948.7948 0 0 0-.3927.6813zm1.0976-2.3654l2.602-1.4998 2.6069 1.4998v2.9994l-2.5974 1.4997-2.6067-1.4997Z"/></svg>
<div class="t" style="left:85.8px;top:842.35px;font-size:14px;line-height:18px;color:#d6d6d6;letter-spacing:-0.12px;">gpt-4.1</div>
<div class="t" style="left:348.7px;top:842.35px;font-size:14px;line-height:18px;color:#60a5fa;letter-spacing:-0.34px;-webkit-text-stroke:0.35px #60a5fa;">0.41s</div>
<div class="a" style="left:13px;top:870px;width:992px;height:1px;background:#2a2a2a;"></div>
<div class="a" style="left:395px;top:882px;width:606px;height:16px;background:#0f1915;"></div>
<div class="a" style="left:545px;top:882px;width:1px;height:16px;background:#262a29;"></div>
<div class="a" style="left:697px;top:882px;width:1px;height:16px;background:#262a29;"></div>
<div class="a" style="left:848px;top:882px;width:1px;height:16px;background:#262a29;"></div>
<div class="a" style="left:55px;top:876.8px;width:26px;height:26px;border-radius:50%;box-sizing:border-box;border:1px solid #1f3a68;background:#191919"></div>
<svg class="a" style="left:59.95px;top:881.6999999999999px;" width="16.4" height="16.4" viewBox="0 0 24 24"><g fill="none" stroke="#10b981" stroke-width="2.05" stroke-linecap="round" stroke-linejoin="round"><path d="M20.2 6 3 11l-.9-2.4c-.3-1.1.3-2.2 1.3-2.5l13.5-4c1.1-.3 2.2.3 2.5 1.3Z"/><path d="m6.2 5.3 3.1 3.9"/><path d="m12.4 3.4 3.1 4"/><path d="M3 11h18v8a2 2 0 0 1-2 2H5a2 2 0 0 1-2-2Z"/></g></svg>
<div class="a" style="left:69.5px;top:891.3px;width:15.4px;height:15.4px;border-radius:50%;box-sizing:border-box;border:1px solid #2a374b;background:#1e293b"></div>
<svg class="a" style="left:71.8px;top:895.7px;" width="10.4" height="6.4" viewBox="0 0 21 13"><rect x="0" y="0" width="21" height="13" rx="6.5" fill="#f4f6f8"/><path d="M5 3c0 2 1 4 3 6M5 3l2 1M12 9l2-3M14 10l3-4" stroke="#1e293b" stroke-width="1.5" fill="none" stroke-linecap="round"/></svg>
<div class="t" style="left:85.8px;top:881.35px;font-size:14px;line-height:18px;color:#d6d6d6;letter-spacing:0.1px;">JsonOutputParser</div>
<div class="t" style="left:340.6px;top:881.35px;font-size:14px;line-height:18px;color:#60a5fa;letter-spacing:-0.28px;-webkit-text-stroke:0.35px #60a5fa;">&lt;0.01s</div>
<div class="a" style="left:1040px;top:14px;width:26px;height:26px;border-radius:50%;box-sizing:border-box;border:1px solid #1f3a68;background:#191919"></div>
<svg class="a" style="left:1044.95px;top:18.9px;" width="16.4" height="16.4" viewBox="0 0 24 24"><g fill="none" stroke="#10b981" stroke-width="2.05" stroke-linecap="round" stroke-linejoin="round"><path d="M20.2 6 3 11l-.9-2.4c-.3-1.1.3-2.2 1.3-2.5l13.5-4c1.1-.3 2.2.3 2.5 1.3Z"/><path d="m6.2 5.3 3.1 3.9"/><path d="m12.4 3.4 3.1 4"/><path d="M3 11h18v8a2 2 0 0 1-2 2H5a2 2 0 0 1-2-2Z"/></g></svg>
<div class="a" style="left:1054.5px;top:28.500000000000004px;width:15.4px;height:15.4px;border-radius:50%;box-sizing:border-box;border:1px solid #2a374b;background:#1e293b"></div>
<svg class="a" style="left:1056.8px;top:32.900000000000006px;" width="10.4" height="6.4" viewBox="0 0 21 13"><rect x="0" y="0" width="21" height="13" rx="6.5" fill="#f4f6f8"/><path d="M5 3c0 2 1 4 3 6M5 3l2 1M12 9l2-3M14 10l3-4" stroke="#1e293b" stroke-width="1.5" fill="none" stroke-linecap="round"/></svg>
<div class="t" style="left:1074.2px;top:18.84px;font-size:12px;line-height:16px;color:#ffffff;letter-spacing:0.08px;-webkit-text-stroke:0.5px #ffffff;">LangGraph</div>
<div class="a" style="left:1425px;top:15px;width:44px;height:24px;border-radius:12px;background:#2a2a2a"></div>
<div class="t" style="left:1441.7px;top:18.84px;font-size:12px;line-height:16px;color:#ffffff;letter-spacing:-0.57px;-webkit-text-stroke:0.5px #ffffff;">UI</div>
<div class="t" style="left:1485.2px;top:18.84px;font-size:12px;line-height:16px;color:#a4a9b8;letter-spacing:-0.25px;-webkit-text-stroke:0.2px #a4a9b8;">JSON</div>
<svg class="a" style="left:1540.8px;top:19.8px;" width="14.4" height="14.4" viewBox="0 0 24 24"><g fill="none" stroke="#d8d8d8" stroke-width="1.9" stroke-linecap="round" stroke-linejoin="round"><path d="M5 5 19 19M19 5 5 19"/></g></svg>
<div class="a" style="left:1494px;top:70px;width:73px;height:26px;border-radius:6px;box-sizing:border-box;border:1px solid #0f766e;background:#1a1a1a"></div>
<div class="t" style="left:1503.5px;top:75.04px;font-size:12px;line-height:16px;color:#1fb8a6;font-weight:700;letter-spacing:-0.18px;">langchain</div>
<div class="a" style="left:1032px;top:104px;width:535px;height:1px;background:#242424;"></div>
<div class="a" style="left:1032px;top:145px;width:535px;height:1px;background:#242424;"></div>
<div class="a" style="left:1032px;top:186px;width:535px;height:1px;background:#242424;"></div>
<div class="a" style="left:1032px;top:223px;width:535px;height:1px;background:#242424;"></div>
<div class="a" style="left:1032px;top:260px;width:535px;height:1px;background:#242424;"></div>
<div class="a" style="left:1032px;top:297px;width:535px;height:1px;background:#242424;"></div>
<div class="a" style="left:1032px;top:334px;width:535px;height:1px;background:#242424;"></div>
<div class="a" style="left:1032px;top:371px;width:535px;height:1px;background:#242424;"></div>
<div class="a" style="left:1032px;top:475px;width:535px;height:1px;background:#242424;"></div>
<div class="a" style="left:1032px;top:512px;width:535px;height:1px;background:#242424;"></div>
<div class="a" style="left:1032px;top:736px;width:535px;height:1px;background:#242424;"></div>
<div class="a" style="left:1032px;top:777px;width:535px;height:1px;background:#242424;"></div>
<svg class="a" style="left:1043.7px;top:117.5px;" width="14.6" height="14.6" viewBox="0 0 24 24"><g fill="none" stroke="#f0f0f0" stroke-width="2.2" stroke-linecap="round" stroke-linejoin="round"><line x1="4" x2="20" y1="9" y2="9"/><line x1="4" x2="20" y1="15" y2="15"/><line x1="10" x2="8" y1="3" y2="21"/><line x1="16" x2="14" y1="3" y2="21"/></g></svg>
<div class="t" style="left:1065.8px;top:117.1px;font-size:12px;line-height:16px;color:#efefef;letter-spacing:-0.22px;-webkit-text-stroke:0.27px #efefef;">Trace ID:</div>
<div class="a" style="left:1139px;top:114.8px;width:240.5px;height:20px;border-radius:4px;background:#1b1b1b"></div>
<div class="t" style="left:1147px;top:117.1px;font-size:12px;line-height:16px;color:#21b3a2;letter-spacing:0.12px;">b25e0684-7d90-acd3-09be-48d83ff56b7c</div>
<svg class="a" style="left:1043.7px;top:158.5px;" width="14.6" height="14.6" viewBox="0 0 24 24"><g fill="none" stroke="#f0f0f0" stroke-width="2.2" stroke-linecap="round" stroke-linejoin="round"><line x1="4" x2="20" y1="9" y2="9"/><line x1="4" x2="20" y1="15" y2="15"/><line x1="10" x2="8" y1="3" y2="21"/><line x1="16" x2="14" y1="3" y2="21"/></g></svg>
<div class="t" style="left:1065.8px;top:158.1px;font-size:12px;line-height:16px;color:#efefef;letter-spacing:-0.05px;-webkit-text-stroke:0.27px #efefef;">Thread ID:</div>
<div class="a" style="left:1139px;top:155.8px;width:236.5999999999999px;height:20px;border-radius:4px;background:#1b1b1b"></div>
<div class="t" style="left:1147px;top:158.1px;font-size:12px;line-height:16px;color:#21b3a2;letter-spacing:0.15px;">bfced28f-5966-4491-867e-fd3875fe3282</div>
<svg class="a" style="left:1044.2px;top:197.7px;" width="13.6" height="13.6" viewBox="0 0 24 24"><g fill="none" stroke="#f0f0f0" stroke-width="2.3" stroke-linecap="round" stroke-linejoin="round"><circle cx="12" cy="12" r="10"/><path d="M12 7V12H7.5"/></g></svg>
<div class="t" style="left:1065.8px;top:196.8px;font-size:12px;line-height:16px;color:#efefef;letter-spacing:0.3px;-webkit-text-stroke:0.27px #efefef;">Start time:</div>
<div class="a" style="left:1139px;top:194.5px;width:177px;height:20px;border-radius:4px;background:#1b1b1b"></div>
<div class="t" style="left:1147px;top:196.8px;font-size:12px;line-height:16px;color:#21b3a2;letter-spacing:-0.06px;">06/28/2025, 08:16:48 AM UTC</div>
<svg class="a" style="left:1044.2px;top:234.7px;" width="13.6" height="13.6" viewBox="0 0 24 24"><g fill="none" stroke="#f0f0f0" stroke-width="2.3" stroke-linecap="round" stroke-linejoin="round"><circle cx="12" cy="12" r="10"/><path d="M12 7V12H7.5"/></g></svg>
<div class="t" style="left:1065.8px;top:233.8px;font-size:12px;line-height:16px;color:#efefef;letter-spacing:0.11px;-webkit-text-stroke:0.27px #efefef;">Finish time:</div>
<div class="a" style="left:1139px;top:231.5px;width:177px;height:20px;border-radius:4px;background:#1b1b1b"></div>
<div class="t" style="left:1147px;top:233.8px;font-size:12px;line-height:16px;color:#21b3a2;letter-spacing:-0.06px;">06/28/2025, 08:17:05 AM UTC</div>
<svg class="a" style="left:1044.2px;top:271.7px;" width="13.6" height="13.6" viewBox="0 0 24 24"><g fill="none" stroke="#f0f0f0" stroke-width="2.3" stroke-linecap="round" stroke-linejoin="round"><circle cx="12" cy="12" r="10"/><path d="M12 7V12H7.5"/></g></svg>
<div class="t" style="left:1065.8px;top:270.8px;font-size:12px;line-height:16px;color:#efefef;letter-spacing:0.31px;-webkit-text-stroke:0.27px #efefef;">Duration:</div>
<div class="a" style="left:1139px;top:268.5px;width:50.799999999999955px;height:20px;border-radius:4px;background:#1b1b1b"></div>
<div class="t" style="left:1147px;top:270.8px;font-size:12px;line-height:16px;color:#21b3a2;letter-spacing:-0.21px;">16.80s</div>
<svg class="a" style="left:1044.3px;top:308.8px;" width="13.4" height="13.4" viewBox="0 0 24 24"><g fill="none" stroke="#f0f0f0" stroke-width="2.2" stroke-linecap="round" stroke-linejoin="round"><path d="M4.5 4.5a1.5 1.5 0 0 1 1.5-1.5h12a1.5 1.5 0 0 1 1.5 1.5V21l-7.5-4.5L4.5 21Z"/></g></svg>
<div class="t" style="left:1065.8px;top:307.8px;font-size:12px;line-height:16px;color:#efefef;letter-spacing:-0.16px;-webkit-text-stroke:0.27px #efefef;">Span Kind:</div>
<div class="a" style="left:1139px;top:305.5px;width:51.90000000000009px;height:20px;border-radius:4px;background:#1b1b1b"></div>
<div class="t" style="left:1147px;top:307.8px;font-size:12px;line-height:16px;color:#21b3a2;letter-spacing:-0.34px;">CHAIN</div>
<svg class="a" style="left:1045.0px;top:346.5px;" width="12" height="12" viewBox="0 0 24 24"><g fill="none" stroke="#f0f0f0" stroke-width="2.4" stroke-linecap="round" stroke-linejoin="round"><path d="m15 15 6 6m-6-6v4.8m0-4.8h4.8"/><path d="M9 19.8V15m0 0H4.2M9 15l-6 6"/><path d="M15 4.2V9m0 0h4.8M15 9l6-6"/><path d="M9 4.2V9m0 0H4.2M9 9 3 3"/></g></svg>
<div class="t" style="left:1064.8px;top:344.8px;font-size:12px;line-height:16px;color:#efefef;letter-spacing:0.6px;-webkit-text-stroke:0.27px #efefef;">Input:</div>
<div class="a" style="left:1139px;top:342.5px;width:103px;height:20px;border-radius:4px;background:#1b1b1b"></div>
<div class="t" style="left:1147px;top:344.8px;font-size:12px;line-height:16px;color:#21b3a2;letter-spacing:0.32px;">application/json</div>
<svg class="a" style="left:1045.0px;top:487.5px;" width="12" height="12" viewBox="0 0 24 24"><g fill="none" stroke="#f0f0f0" stroke-width="2.4" stroke-linecap="round" stroke-linejoin="round"><path d="m15 15 6 6"/><path d="m15 9 6-6"/><path d="M21 16.2V21h-4.8"/><path d="M21 7.8V3h-4.8"/><path d="M3 16.2V21h4.8"/><path d="m3 21 6-6"/><path d="M3 7.8V3h4.8"/><path d="M9 9 3 3"/></g></svg>
<div class="t" style="left:1065.8px;top:485.8px;font-size:12px;line-height:16px;color:#efefef;letter-spacing:0.61px;-webkit-text-stroke:0.27px #efefef;">Output:</div>
<div class="a" style="left:1139px;top:483.5px;width:103px;height:20px;border-radius:4px;background:#1b1b1b"></div>
<div class="t" style="left:1147px;top:485.8px;font-size:12px;line-height:16px;color:#21b3a2;letter-spacing:0.32px;">application/json</div>
<svg class="a" style="left:1509.6px;top:118.7px;" width="12.8" height="12.8" viewBox="0 0 24 24"><g fill="none" stroke="#9a9fab" stroke-width="1.7" stroke-linecap="round" stroke-linejoin="round"><path d="M2.5 3.5c6-1.6 13-1.6 19 0L14 12.5V20l-4 1.5v-9Z"/></g></svg>
<svg class="a" style="left:1536.8px;top:118.5px;" width="12.8" height="12.8" viewBox="0 0 24 24"><g fill="none" stroke="#9a9fab" stroke-width="1.8" stroke-linecap="round" stroke-linejoin="round"><path d="M3 8.5a2 2 0 0 1 2-2h6l5 5V20a2 2 0 0 1-2 2H5a2 2 0 0 1-2-2Z"/><path d="M10.5 6.5V10a1.5 1.5 0 0 0 1.5 1.5H16"/><path d="M8 6.5V4a2 2 0 0 1 2-2h6.5L21 6.5V16a2 2 0 0 1-2 2h-3"/></g></svg>
<svg class="a" style="left:1487.6px;top:159.7px;" width="12.8" height="12.8" viewBox="0 0 24 24"><g fill="none" stroke="#9a9fab" stroke-width="1.7" stroke-linecap="round" stroke-linejoin="round"><path d="M2.5 3.5c6-1.6 13-1.6 19 0L14 12.5V20l-4 1.5v-9Z"/></g></svg>
<svg class="a" style="left:1509.8px;top:159.6px;" width="12.6" height="12.6" viewBox="0 0 24 24"><g fill="none" stroke="#9a9fab" stroke-width="1.8" stroke-linecap="round" stroke-linejoin="round"><path d="M21 12v7a2 2 0 0 1-2 2H5a2 2 0 0 1-2-2V7a2 2 0 0 1 2-2h8"/><path d="M9 15 22 2"/><path d="M15 2h7v7"/></g></svg>
<svg class="a" style="left:1536.8px;top:159.5px;" width="12.8" height="12.8" viewBox="0 0 24 24"><g fill="none" stroke="#9a9fab" stroke-width="1.8" stroke-linecap="round" stroke-linejoin="round"><path d="M3 8.5a2 2 0 0 1 2-2h6l5 5V20a2 2 0 0 1-2 2H5a2 2 0 0 1-2-2Z"/><path d="M10.5 6.5V10a1.5 1.5 0 0 0 1.5 1.5H16"/><path d="M8 6.5V4a2 2 0 0 1 2-2h6.5L21 6.5V16a2 2 0 0 1-2 2h-3"/></g></svg>
<svg class="a" style="left:1045.4px;top:749.1px;" width="13.4" height="15.3" viewBox="0 0 14 16"><g fill="none" stroke="#3b82f6" stroke-width="1.5" stroke-linejoin="round" stroke-linecap="round"><path d="M2.5 1h6l4 4v9.5a1 1 0 0 1-1 1h-9a1 1 0 0 1-1-1v-12.5a1 1 0 0 1 1-1Z"/><path d="M8.5 1v4h4"/><path d="M5.8 8.5c-.900 0-.700 1.2-.700 1.5s-.500.5-.500.5.5.2.5.5-.200 1.5.7 1.5M8.2 8.5c.900 0 .700 1.2.7 1.5s.500.5.5.5-.500.2-.500.5.2 1.5-.700 1.5"/></g></svg>
<div class="t" style="left:1068px;top:748.74px;font-size:12px;line-height:16px;color:#ffffff;letter-spacing:0.58px;-webkit-text-stroke:0.5px #ffffff;">Additional Attributes</div>
<svg class="a" style="left:1541px;top:751px;" width="12" height="12" viewBox="0 0 24 24"><g fill="none" stroke="#b8b8b8" stroke-width="2.2" stroke-linecap="round" stroke-linejoin="round"><path d="m5 9 7 7 7-7"/></g></svg>
<svg class="a" style="left:1046px;top:384.6px" width="6.6" height="3.6" viewBox="0 0 6.6 3.6"><path d="M0 0h6.6L3.3 3.6z" fill="#2196f3"/></svg>
<div class="t" style="left:1060.6px;top:381.19px;font-size:11px;line-height:14px;color:#c6c6c6;font-family:'Liberation Mono', monospace;-webkit-text-stroke:0.15px #c6c6c6;">"root"</div>
<div class="t" style="left:1105px;top:381.19px;font-size:11px;line-height:14px;color:#d2d2d2;font-family:'Liberation Mono', monospace;-webkit-text-stroke:0.2px #d2d2d2;">:</div>
<div class="t" style="left:1115.9px;top:381.19px;font-size:11px;line-height:14px;color:#d2d2d2;font-family:'Liberation Mono', monospace;-webkit-text-stroke:0.15px #d2d2d2;">{</div>
<svg class="a" style="left:1073.4px;top:402.3px" width="6.6" height="3.6" viewBox="0 0 6.6 3.6"><path d="M0 0h6.6L3.3 3.6z" fill="#2196f3"/></svg>
<div class="t" style="left:1087.4px;top:398.79px;font-size:11px;line-height:14px;color:#c6c6c6;font-family:'Liberation Mono', monospace;-webkit-text-stroke:0.15px #c6c6c6;">"messages"</div>
<div class="t" style="left:1158.2px;top:398.79px;font-size:11px;line-height:14px;color:#d2d2d2;font-family:'Liberation Mono', monospace;-webkit-text-stroke:0.2px #d2d2d2;">:</div>
<div class="t" style="left:1168.8px;top:398.79px;font-size:11px;line-height:14px;color:#d2d2d2;font-family:'Liberation Mono', monospace;-webkit-text-stroke:0.15px #d2d2d2;">[</div>
<svg class="a" style="left:1099.8px;top:419.4px" width="3.6" height="6.2" viewBox="0 0 3.6 6.2"><path d="M0 0v6.2L3.6 3.1z" fill="#b026c4"/></svg>
<div class="t" style="left:1115px;top:418.04px;font-size:10px;line-height:13px;color:#1aa3c4;font-family:'Liberation Mono', monospace;-webkit-text-stroke:0.15px #1aa3c4;">0</div>
<div class="t" style="left:1126.2px;top:417.19px;font-size:11px;line-height:14px;color:#d2d2d2;font-family:'Liberation Mono', monospace;-webkit-text-stroke:0.2px #d2d2d2;">:</div>
<div class="t" style="left:1137.3px;top:417.19px;font-size:11px;line-height:14px;color:#d2d2d2;font-family:'Liberation Mono', monospace;-webkit-text-stroke:0.15px #d2d2d2;">[</div>
<div class="a" style="left:1147.7px;top:424.2px;width:2.4px;height:2.6px;background:#ffd400;"></div>
<div class="a" style="left:1159.2px;top:424.2px;width:2.4px;height:2.6px;background:#ffd400;"></div>
<div class="a" style="left:1170.5px;top:424.2px;width:2.4px;height:2.6px;background:#ffd400;"></div>
<div class="t" style="left:1176.2px;top:417.19px;font-size:11px;line-height:14px;color:#d2d2d2;font-family:'Liberation Mono', monospace;-webkit-text-stroke:0.15px #d2d2d2;">]</div>
<div class="t" style="left:1074px;top:435.19px;font-size:11px;line-height:14px;color:#d2d2d2;font-family:'Liberation Mono', monospace;-webkit-text-stroke:0.15px #d2d2d2;">]</div>
<div class="t" style="left:1046.8px;top:453.19px;font-size:11px;line-height:14px;color:#d2d2d2;font-family:'Liberation Mono', monospace;-webkit-text-stroke:0.15px #d2d2d2;">}</div>
<div class="a" style="left:1050px;top:395px;width:1px;height:57px;background:#3a3a3a;"></div>
<div class="a" style="left:1077px;top:413px;width:1px;height:21px;background:#3a3a3a;"></div>
<svg class="a" style="left:1046.2px;top:525.5px" width="6.6" height="3.6" viewBox="0 0 6.6 3.6"><path d="M0 0h6.6L3.3 3.6z" fill="#2196f3"/></svg>
<div class="t" style="left:1060.6px;top:522.09px;font-size:11px;line-height:14px;color:#c6c6c6;font-family:'Liberation Mono', monospace;-webkit-text-stroke:0.15px #c6c6c6;">"root"</div>
<div class="t" style="left:1104.8px;top:522.09px;font-size:11px;line-height:14px;color:#d2d2d2;font-family:'Liberation Mono', monospace;-webkit-text-stroke:0.2px #d2d2d2;">:</div>
<div class="t" style="left:1116px;top:522.09px;font-size:11px;line-height:14px;color:#d2d2d2;font-family:'Liberation Mono', monospace;-webkit-text-stroke:0.15px #d2d2d2;">{</div>
<svg class="a" style="left:1073.4px;top:543.7px" width="6.6" height="3.6" viewBox="0 0 6.6 3.6"><path d="M0 0h6.6L3.3 3.6z" fill="#2196f3"/></svg>
<div class="t" style="left:1087.4px;top:540.29px;font-size:11px;line-height:14px;color:#c6c6c6;font-family:'Liberation Mono', monospace;-webkit-text-stroke:0.15px #c6c6c6;">"messages"</div>
<div class="t" style="left:1158.2px;top:540.29px;font-size:11px;line-height:14px;color:#d2d2d2;font-family:'Liberation Mono', monospace;-webkit-text-stroke:0.2px #d2d2d2;">:</div>
<div class="t" style="left:1168.7px;top:540.29px;font-size:11px;line-height:14px;color:#d2d2d2;font-family:'Liberation Mono', monospace;-webkit-text-stroke:0.15px #d2d2d2;">[</div>
<div class="t" style="left:1098.1px;top:558.44px;font-size:10px;line-height:13px;color:#1aa3c4;font-family:'Liberation Mono', monospace;-webkit-text-stroke:0.15px #1aa3c4;">0</div>
<div class="t" style="left:1109px;top:557.59px;font-size:11px;line-height:14px;color:#d2d2d2;font-family:'Liberation Mono', monospace;-webkit-text-stroke:0.2px #d2d2d2;">:</div>
<div class="t" style="left:1120.2px;top:558.44px;font-size:10px;line-height:13px;color:#f2ca0c;font-family:'Liberation Mono', monospace;letter-spacing:0.03px;-webkit-text-stroke:0.15px #f2ca0c;">"content='customer_id: customer_14 : I wish to plac</div>
<div class="a" style="left:1442.8px;top:564.6000000000001px;width:2.4px;height:2.6px;background:#ffd400;"></div>
<div class="a" style="left:1454.3999999999999px;top:564.6000000000001px;width:2.4px;height:2.6px;background:#ffd400;"></div>
<div class="a" style="left:1466.0px;top:564.6000000000001px;width:2.4px;height:2.6px;background:#ffd400;"></div>
<div class="t" style="left:1470.6px;top:558.44px;font-size:10px;line-height:13px;color:#f2ca0c;font-family:'Liberation Mono', monospace;-webkit-text-stroke:0.15px #f2ca0c;">"</div>
<div class="t" style="left:1074.1px;top:576.29px;font-size:11px;line-height:14px;color:#d2d2d2;font-family:'Liberation Mono', monospace;-webkit-text-stroke:0.15px #d2d2d2;">]</div>
<svg class="a" style="left:1073.4px;top:600.6px" width="6.6" height="3.6" viewBox="0 0 6.6 3.6"><path d="M0 0h6.6L3.3 3.6z" fill="#2196f3"/></svg>
<div class="t" style="left:1087.4px;top:596.89px;font-size:11px;line-height:14px;color:#c6c6c6;font-family:'Liberation Mono', monospace;-webkit-text-stroke:0.15px #c6c6c6;">"query"</div>
<div class="t" style="left:1138.7px;top:596.89px;font-size:11px;line-height:14px;color:#d2d2d2;font-family:'Liberation Mono', monospace;-webkit-text-stroke:0.2px #d2d2d2;">:</div>
<div class="t" style="left:1149.9px;top:596.89px;font-size:11px;line-height:14px;color:#d2d2d2;font-family:'Liberation Mono', monospace;-webkit-text-stroke:0.15px #d2d2d2;">{</div>
<svg class="a" style="left:1099.9px;top:617.2px" width="3.6" height="6.2" viewBox="0 0 3.6 6.2"><path d="M0 0v6.2L3.6 3.1z" fill="#b026c4"/></svg>
<div class="t" style="left:1114.5px;top:614.99px;font-size:11px;line-height:14px;color:#c6c6c6;font-family:'Liberation Mono', monospace;-webkit-text-stroke:0.15px #c6c6c6;">"messages"</div>
<div class="t" style="left:1185.2px;top:614.99px;font-size:11px;line-height:14px;color:#d2d2d2;font-family:'Liberation Mono', monospace;-webkit-text-stroke:0.2px #d2d2d2;">:</div>
<div class="t" style="left:1195.8px;top:614.99px;font-size:11px;line-height:14px;color:#d2d2d2;font-family:'Liberation Mono', monospace;-webkit-text-stroke:0.15px #d2d2d2;">[</div>
<div class="a" style="left:1206.3px;top:622.0000000000001px;width:2.4px;height:2.6px;background:#ffd400;"></div>
<div class="a" style="left:1217.8px;top:622.0000000000001px;width:2.4px;height:2.6px;background:#ffd400;"></div>
<div class="a" style="left:1229.2px;top:622.0000000000001px;width:2.4px;height:2.6px;background:#ffd400;"></div>
<div class="t" style="left:1234.8px;top:614.99px;font-size:11px;line-height:14px;color:#d2d2d2;font-family:'Liberation Mono', monospace;-webkit-text-stroke:0.15px #d2d2d2;">]</div>
<div class="t" style="left:1074.2px;top:633.49px;font-size:11px;line-height:14px;color:#d2d2d2;font-family:'Liberation Mono', monospace;-webkit-text-stroke:0.15px #d2d2d2;">}</div>
<div class="t" style="left:1070.5px;top:653.99px;font-size:11px;line-height:14px;color:#c6c6c6;font-family:'Liberation Mono', monospace;-webkit-text-stroke:0.15px #c6c6c6;">"category"</div>
<div class="t" style="left:1141.5px;top:653.99px;font-size:11px;line-height:14px;color:#d2d2d2;font-family:'Liberation Mono', monospace;-webkit-text-stroke:0.2px #d2d2d2;">:</div>
<div class="t" style="left:1151.1px;top:654.84px;font-size:10px;line-height:13px;color:#f2ca0c;font-family:'Liberation Mono', monospace;letter-spacing:0.16px;-webkit-text-stroke:0.15px #f2ca0c;">"PlaceOrder"</div>
<div class="t" style="left:1070.5px;top:674.99px;font-size:11px;line-height:14px;color:#c6c6c6;font-family:'Liberation Mono', monospace;-webkit-text-stroke:0.15px #c6c6c6;">"cost"</div>
<div class="t" style="left:1114.9px;top:674.99px;font-size:11px;line-height:14px;color:#d2d2d2;font-family:'Liberation Mono', monospace;-webkit-text-stroke:0.2px #d2d2d2;">:</div>
<div class="t" style="left:1125.6px;top:675.84px;font-size:10px;line-height:13px;color:#f2ca0c;font-family:'Liberation Mono', monospace;letter-spacing:0.11px;-webkit-text-stroke:0.15px #f2ca0c;">"$798.40"</div>
<div class="t" style="left:1070.5px;top:695.89px;font-size:11px;line-height:14px;color:#c6c6c6;font-family:'Liberation Mono', monospace;-webkit-text-stroke:0.15px #c6c6c6;">"payment_status"</div>
<div class="t" style="left:1179.9px;top:695.89px;font-size:11px;line-height:14px;color:#d2d2d2;font-family:'Liberation Mono', monospace;-webkit-text-stroke:0.2px #d2d2d2;">:</div>
<div class="t" style="left:1190.6px;top:696.74px;font-size:10px;line-height:13px;color:#f2ca0c;font-family:'Liberation Mono', monospace;letter-spacing:0.17px;-webkit-text-stroke:0.15px #f2ca0c;">"Failed"</div>
<div class="t" style="left:1046.8px;top:714.09px;font-size:11px;line-height:14px;color:#d2d2d2;font-family:'Liberation Mono', monospace;-webkit-text-stroke:0.15px #d2d2d2;">}</div>
<div class="a" style="left:1050px;top:536px;width:1px;height:177px;background:#3a3a3a;"></div>
<div class="a" style="left:1077px;top:554px;width:1px;height:21px;background:#3a3a3a;"></div>
<div class="a" style="left:1077px;top:611px;width:1px;height:21px;background:#3a3a3a;"></div>
</div></body></html>
